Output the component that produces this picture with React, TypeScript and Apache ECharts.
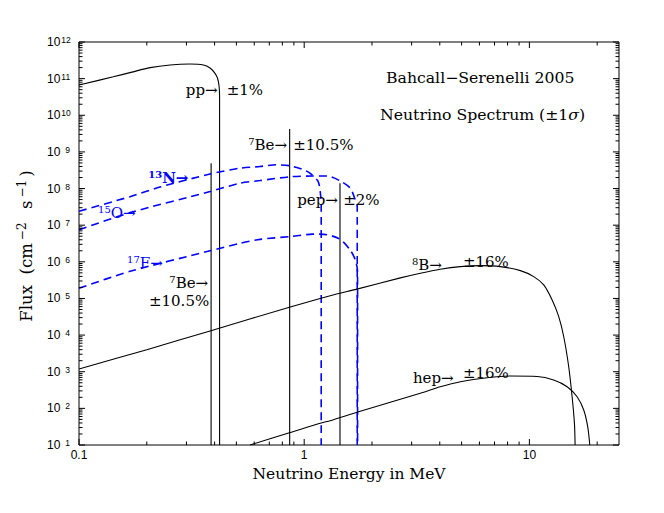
import React, { useEffect, useRef } from "react";
import * as echarts from "echarts";

// ---- axis ranges (MeV, flux) ----
const X_MIN = 0.1;
const X_MAX = 25;
const Y_MIN = 10;
const Y_MAX = 1e12;

// ---- spectra [energy MeV, flux] ----
const ppSpectrum: number[][] = [
  [0.1, 6.7e10], [0.142, 1.12e11], [0.17, 1.48e11], [0.207, 2.0e11], [0.254, 2.36e11],
  [0.311, 2.5e11], [0.357, 2.36e11], [0.382, 1.95e11], [0.401, 1.42e11], [0.412, 1.04e11],
  [0.419, 6.1e10], [0.421, 3e10], [0.421, 10],
];
const be7LineLow: number[][] = [[0.386, 10], [0.386, 4.9e8]];
const be7LineHigh: number[][] = [[0.862, 10], [0.862, 4.2e9]];
const pepLine: number[][] = [[1.442, 10], [1.442, 1.4e8]];
const n13Spectrum: number[][] = [
  [0.1, 2.4e7], [0.1685, 6.0e7], [0.229, 1.1e8], [0.382, 2.5e8], [0.5195, 3.6e8],
  [0.637, 4.0e8], [0.751, 4.45e8], [0.867, 4.17e8], [1.0, 3.2e8], [1.063, 2.6e8],
  [1.154, 1.55e8], [1.185, 6e7], [1.19, 3.4e7], [1.19, 10],
];
const o15Spectrum: number[][] = [
  [0.1, 7.5e6], [0.1685, 2.2e7], [0.382, 8.3e7], [0.5195, 1.4e8], [0.637, 1.65e8],
  [0.867, 2.1e8], [1.096, 2.2e8], [1.265, 2.2e8], [1.445, 1.62e8], [1.601, 1.03e8],
  [1.686, 4.9e7], [1.72, 3.2e7], [1.72, 10],
];
const f17Spectrum: number[][] = [
  [0.1, 1.9e5], [0.1685, 5.5e5], [0.382, 2.0e6], [0.5195, 3.2e6], [0.637, 4.1e6],
  [0.867, 4.9e6], [1.096, 5.7e6], [1.265, 5.5e6], [1.445, 4.1e6], [1.601, 2.1e6],
  [1.686, 1.13e6], [1.726, 5.4e5], [1.726, 10],
];
const b8Spectrum: number[][] = [
  [0.1, 1.19e3], [0.2, 4.0e3], [0.382, 1.3e4], [0.86, 5.75e4], [1.305, 1.19e5],
  [1.715, 1.8e5], [2.672, 3.64e5], [3.28, 4.89e5], [4.02, 6.28e5], [4.94, 7.4e5],
  [6.06, 7.87e5], [7.43, 7.4e5], [9.12, 5.75e5], [10.45, 3.94e5], [11.58, 2.34e5],
  [12.62, 9.1e4], [13.5, 3.18e4], [14.21, 9.0e3], [14.95, 1.37e3], [15.48, 207],
  [15.85, 38.9], [15.96, 10],
];
const hepSpectrum: number[][] = [
  [0.575, 10], [0.86, 21.5], [1.19, 40], [1.305, 46], [1.715, 78], [3.28, 260],
  [4.02, 389], [4.94, 533], [6.49, 686], [8.23, 763], [10.82, 740], [12.82, 593],
  [14.71, 389], [16.29, 207], [17.43, 90], [18.16, 31.4], [18.54, 10],
];

// ---- tick values ----
const xMajorTicks = [0.1, 1, 10];
const xMinorTicks = [0.2, 0.3, 0.4, 0.5, 0.6, 0.7, 0.8, 0.9, 2, 3, 4, 5, 6, 7, 8, 9, 20];
const yDecades = [1, 2, 3, 4, 5, 6, 7, 8, 9, 10, 11, 12];
const yMinorMultipliers = [2, 3, 4, 5, 6, 7, 8, 9];
const xTickLabels: Record<string, string> = { "-1": "0.1", "0": "1", "1": "10" };

// ---- annotation texts (anchored in data coordinates) ----
const annotTexts = [
  "pp→", "±1%", "{s|7}Be→", "±10.5%", "pep→", "±2%",
  "{s|13}N→", "{s|15}O→", "{s|17}F→",
  "{s|7}Be→", "±10.5%", "{s|8}B→", "±16%", "hep→", "±16%",
];
const annotX = [0.298, 0.453, 0.564, 0.894, 0.931, 1.49, 0.203, 0.1215, 0.1634, 0.3745, 0.3786, 3.01, 5.07, 3.04, 5.07];
const annotY = [4.76e10, 4.76e10, 1.56e9, 1.56e9, 4.9e7, 4.9e7, 1.96e8, 2.17e7, 9.3e5, 2.65e5, 8.7e4, 8.2e5, 1.01e6, 686, 904];
const annotAlign = ["left", "left", "left", "left", "left", "left", "left", "left", "left", "right", "right", "left", "left", "left", "left"];
const annotBlue = [0, 0, 0, 0, 0, 0, 1, 1, 1, 0, 0, 0, 0, 0, 0];
const annotBold = [0, 0, 0, 0, 0, 0, 1, 0, 0, 0, 0, 0, 0, 0, 0];

const titleLine1 = "Bahcall−Serenelli 2005";
const titleLine2 = "Neutrino Spectrum (±1{i|σ})";
const xAxisName = "Neutrino Energy in MeV";
const yAxisName = "Flux  (cm{s|−2}  s{s|−1})";

const SERIF = "'DejaVu Serif', 'Liberation Serif', serif";
const SANS = "'Liberation Sans', 'DejaVu Sans', sans-serif";
const BLUE = "#0000ff";

const L = (v: number) => Math.log10(v);
const toLog = (pts: number[][]) => pts.map(([x, y]) => [L(x), L(y)]);

export default function App() {
  const ref = useRef<HTMLDivElement>(null);

  useEffect(() => {
    if (!ref.current) return;
    const chart = echarts.init(ref.current, undefined, { renderer: "svg" });

    const blackLine = (name: string, pts: number[][], smooth: number) => ({
      type: "line",
      name,
      data: toLog(pts),
      showSymbol: false,
      symbol: "none",
      smooth,
      lineStyle: { color: "#000", width: 1.1 },
      z: 3,
    });
    const blueLine = (name: string, pts: number[][]) => ({
      type: "line",
      name,
      data: toLog(pts),
      showSymbol: false,
      symbol: "none",
      smooth: 0.25,
      lineStyle: { color: BLUE, width: 1.6, type: [8, 5] },
      z: 3,
    });

    const xTickData = [
      ...xMajorTicks.map((v) => [L(v), L(Y_MIN), 1]),
      ...xMinorTicks.map((v) => [L(v), L(Y_MIN), 0]),
    ];
    const yTickData: number[][] = [];
    yDecades.forEach((d) => {
      yTickData.push([L(X_MIN), d, 1]);
      if (d < 12) yMinorMultipliers.forEach((m) => yTickData.push([L(X_MIN), L(m * Math.pow(10, d)), 0]));
    });

    const annotData = annotTexts.map((_, i) => [L(annotX[i]), L(annotY[i]), i]);

    const option: any = {
      animation: false,
      backgroundColor: "#fff",
      grid: {
        left: 79,
        right: 45,
        top: 42,
        bottom: 68,
        show: true,
        borderColor: "#000",
        borderWidth: 1,
        backgroundColor: "transparent",
      },
      xAxis: {
        type: "value",
        min: L(X_MIN),
        max: L(X_MAX),
        interval: 1,
        axisLine: { show: false },
        axisTick: { show: false },
        splitLine: { show: false },
        axisLabel: {
          color: "#000",
          fontFamily: SANS,
          fontSize: 12,
          margin: 4,
          showMaxLabel: false,
          formatter: (v: number) => {
            const r = Math.round(v);
            if (Math.abs(v - r) > 1e-6) return "";
            return xTickLabels[String(r)] ?? "";
          },
        },
        name: xAxisName,
        nameLocation: "middle",
        nameGap: 17,
        nameTextStyle: { color: "#000", fontFamily: SERIF, fontSize: 15.5, verticalAlign: "top" },
      },
      yAxis: {
        type: "value",
        min: L(Y_MIN),
        max: L(Y_MAX),
        interval: 1,
        axisLine: { show: false },
        axisTick: { show: false },
        splitLine: { show: false },
        axisLabel: {
          color: "#000",
          fontFamily: SANS,
          fontSize: 12,
          margin: 32,
          align: "left",
          formatter: (v: number) => {
            const r = Math.round(v);
            return r >= 10 ? `{b|10}{s|${r}}` : `{b|10}{t|${r}}`;
          },
          rich: {
            b: { fontFamily: SANS, fontSize: 12, color: "#000" },
            s: { fontFamily: SANS, fontSize: 8.5, color: "#000", padding: [0, 0, 4, 1] },
            t: { fontFamily: SANS, fontSize: 8.5, color: "#000", padding: [0, 0, 4, 5] },
          },
        },
        name: yAxisName,
        nameLocation: "middle",
        nameGap: 42,
        nameRotate: 90,
        nameTextStyle: {
          color: "#000",
          fontFamily: SERIF,
          fontSize: 16.5,
          padding: [0, 5, 0, 0],
          rich: {
            s: { fontFamily: SERIF, fontSize: 12, color: "#000", padding: [0, 3, 9, 3] },
          },
        },
      },
      graphic: [
        {
          type: "text",
          left: 386,
          top: 69,
          style: { text: titleLine1, fill: "#000", font: `15.7px ${SERIF}` },
        },
        {
          type: "text",
          left: 380,
          top: 106,
          style: {
            text: titleLine2,
            fill: "#000",
            font: `15.7px ${SERIF}`,
            rich: { i: { fontFamily: SERIF, fontSize: 15.7, fontStyle: "italic", fill: "#000" } },
          },
        },
      ],
      series: [
        blackLine("pp", ppSpectrum, 0.3),
        blackLine("7Be 0.384", be7LineLow, 0),
        blackLine("7Be 0.862", be7LineHigh, 0),
        blackLine("pep", pepLine, 0),
        blueLine("13N", n13Spectrum),
        blueLine("15O", o15Spectrum),
        blueLine("17F", f17Spectrum),
        blackLine("8B", b8Spectrum, 0.3),
        blackLine("hep", hepSpectrum, 0.3),
        {
          type: "custom",
          name: "xticks",
          data: xTickData,
          encode: { x: 0, y: 1 },
          z: 5,
          silent: true,
          renderItem: (_p: any, api: any) => {
            const lx = api.value(0);
            const len = api.value(2) ? 6 : 3.5;
            const b = api.coord([lx, L(Y_MIN)]);
            const t = api.coord([lx, L(Y_MAX)]);
            const st = { stroke: "#000", lineWidth: 1 };
            return {
              type: "group",
              children: [
                { type: "line", shape: { x1: b[0], y1: b[1], x2: b[0], y2: b[1] - len }, style: st },
                { type: "line", shape: { x1: t[0], y1: t[1], x2: t[0], y2: t[1] + len }, style: st },
              ],
            };
          },
        },
        {
          type: "custom",
          name: "yticks",
          data: yTickData,
          encode: { x: 0, y: 1 },
          z: 5,
          silent: true,
          renderItem: (_p: any, api: any) => {
            const ly = api.value(1);
            const len = api.value(2) ? 6 : 3.5;
            const l = api.coord([L(X_MIN), ly]);
            const r = api.coord([L(X_MAX), ly]);
            const st = { stroke: "#000", lineWidth: 1 };
            return {
              type: "group",
              children: [
                { type: "line", shape: { x1: l[0], y1: l[1], x2: l[0] + len, y2: l[1] }, style: st },
                { type: "line", shape: { x1: r[0], y1: r[1], x2: r[0] - len, y2: r[1] }, style: st },
              ],
            };
          },
        },
        {
          type: "custom",
          name: "annotations",
          data: annotData,
          encode: { x: 0, y: 1 },
          z: 6,
          silent: true,
          renderItem: (_p: any, api: any) => {
            const i = api.value(2);
            const p = api.coord([api.value(0), api.value(1)]);
            const color = annotBlue[i] ? BLUE : "#000";
            const weight = annotBold[i] ? "bold" : "normal";
            return {
              type: "text",
              x: p[0],
              y: p[1],
              style: {
                text: annotTexts[i],
                fill: color,
                fontFamily: SERIF,
                fontSize: 15,
                fontWeight: weight,
                align: annotAlign[i],
                verticalAlign: "middle",
                rich: {
                  s: {
                    fontFamily: SERIF,
                    fontSize: 10,
                    fontWeight: weight,
                    fill: color,
                    padding: [0, 0, 6, 0],
                  },
                },
              },
            };
          },
        },
      ],
    };

    chart.setOption(option);
    return () => chart.dispose();
  }, []);

  return (
    <div
      ref={ref}
      style={{ position: "fixed", left: 0, top: 0, width: 664, height: 513, background: "#fff" }}
    />
  );
}
